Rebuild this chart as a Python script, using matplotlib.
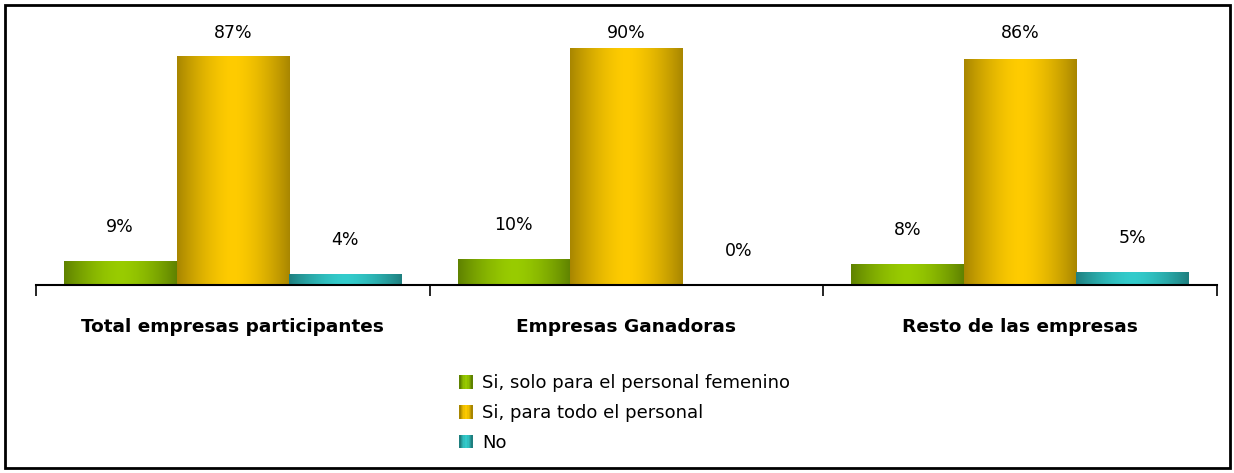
import matplotlib.pyplot as plt
import matplotlib.colors as mcolors
from matplotlib.patches import Rectangle, Patch
from matplotlib.legend_handler import HandlerBase
import numpy as np

# data
categories = ["Total empresas participantes", "Empresas Ganadoras", "Resto de las empresas"]
series_names = ["Si, solo para el personal femenino", "Si, para todo el personal", "No"]
values = {
    "Si, solo para el personal femenino": [9, 10, 8],
    "Si, para todo el personal": [87, 90, 86],
    "No": [4, 0, 5],
}
value_labels = {
    "Si, solo para el personal femenino": ["9%", "10%", "8%"],
    "Si, para todo el personal": ["87%", "90%", "86%"],
    "No": ["4%", "0%", "5%"],
}

# dark edge / bright centre colours for the gradient bars
dark = ["#5f8200", "#a88600", "#1f7f7f"]
bright = ["#99cc00", "#ffcc00", "#33cccc"]


def gradient(i, n):
    c0 = np.array(mcolors.to_rgb(dark[i]))
    c1 = np.array(mcolors.to_rgb(bright[i]))
    p = 1 - np.abs(2 * np.linspace(0, 1, n) - 1) ** 1.6
    return c0[None, :] + (c1 - c0)[None, :] * p[:, None]


class GradHandler(HandlerBase):
    # legend key drawn as thin vertical strips
    def create_artists(self, legend, orig_handle, xdescent, ydescent, width, height, fontsize, trans):
        i = orig_handle.idx
        n = 10
        cols = gradient(i, n)
        arts = []
        for k in range(n):
            r = Rectangle((-xdescent + k * width / n, -ydescent), width / n + 0.3, height,
                          facecolor=cols[k], edgecolor="none", transform=trans)
            arts.append(r)
        return arts


W, H = 1234, 473
fig = plt.figure(figsize=(W / 100, H / 100), dpi=100)
fig.patch.set_facecolor("white")

# outer border
fig.add_artist(Rectangle((5 / W, 5 / H), 1225 / W, 463 / H, transform=fig.transFigure,
                         fill=False, edgecolor="black", linewidth=2))

ax = fig.add_axes([36 / W, (H - 285) / H, (1217 - 36) / W, 263 / H])

x = np.arange(len(categories)) + 0.5
bw = 0.286

for i, name in enumerate(series_names):
    pos = x + (i - 1) * bw
    bars = ax.bar(pos, values[name], width=bw, facecolor="none", edgecolor="none")
    img = gradient(i, 256)[None, :, :]
    for b, v, lab in zip(bars, values[name], value_labels[name]):
        if v > 0:
            im = ax.imshow(img, extent=(b.get_x(), b.get_x() + bw, 0, v),
                           aspect="auto", zorder=2, interpolation="bilinear")
            im.set_clip_path(b)
        ax.text(b.get_x() + bw / 2, min(v + 13, 96), lab, ha="center", va="center",
                fontsize=12.5, color="black")

ax.set_xlim(0, 3)
ax.set_ylim(0, 100)

for s in ["top", "right", "left"]:
    ax.spines[s].set_visible(False)
ax.spines["bottom"].set_linewidth(1.5)
ax.set_yticks([])
ax.set_xticks([0, 1, 2, 3])
ax.set_xticklabels([])
ax.tick_params(axis="x", direction="out", length=8, width=1.2, color="black")

for xc, cat in zip(x, categories):
    ax.text(xc, -16, cat, ha="center", va="center", fontsize=13.3,
            fontweight="bold", transform=ax.transData)

handles = []
for i in range(3):
    h = Patch()
    h.idx = i
    handles.append(h)
fig.legend(handles, series_names, loc="upper left",
           bbox_to_anchor=(443 / W, 1 - 358 / H), frameon=False, fontsize=13,
           handlelength=0.75, handleheight=0.8, handletextpad=0.5, labelspacing=0.65,
           handler_map={Patch: GradHandler()})

fig.savefig("out.png", dpi=100)
